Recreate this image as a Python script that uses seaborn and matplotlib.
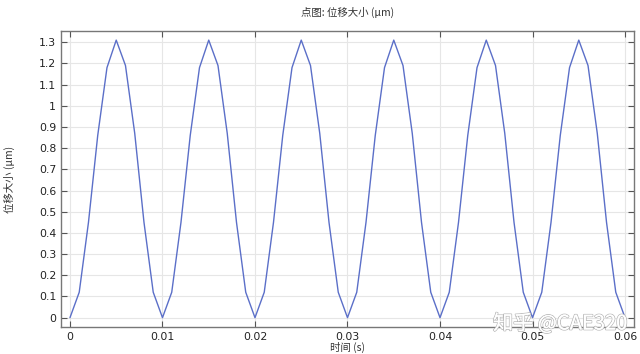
import matplotlib
matplotlib.use("Agg")
import matplotlib.pyplot as plt
import matplotlib.patheffects as pe
import seaborn as sns
import pandas as pd

time_s = [0.000, 0.001, 0.002, 0.003, 0.004, 0.005, 0.006, 0.007, 0.008, 0.009,
          0.010, 0.011, 0.012, 0.013, 0.014, 0.015, 0.016, 0.017, 0.018, 0.019,
          0.020, 0.021, 0.022, 0.023, 0.024, 0.025, 0.026, 0.027, 0.028, 0.029,
          0.030, 0.031, 0.032, 0.033, 0.034, 0.035, 0.036, 0.037, 0.038, 0.039,
          0.040, 0.041, 0.042, 0.043, 0.044, 0.045, 0.046, 0.047, 0.048, 0.049,
          0.050, 0.051, 0.052, 0.053, 0.054, 0.055, 0.056, 0.057, 0.058, 0.059,
          0.060]
disp_um = [0.00, 0.12, 0.45, 0.86, 1.18, 1.31, 1.19, 0.87, 0.45, 0.12,
           0.00, 0.12, 0.45, 0.86, 1.18, 1.31, 1.19, 0.87, 0.45, 0.12,
           0.00, 0.12, 0.45, 0.86, 1.18, 1.31, 1.19, 0.87, 0.45, 0.12,
           0.00, 0.12, 0.45, 0.86, 1.18, 1.31, 1.19, 0.87, 0.45, 0.12,
           0.00, 0.12, 0.45, 0.86, 1.18, 1.31, 1.19, 0.87, 0.45, 0.12,
           0.00, 0.12, 0.45, 0.86, 1.18, 1.31, 1.19, 0.87, 0.45, 0.12,
           0.00]
x_ticks = [0, 0.01, 0.02, 0.03, 0.04, 0.05, 0.06]
x_tick_labels = ["0", "0.01", "0.02", "0.03", "0.04", "0.05", "0.06"]
y_ticks = [0, 0.1, 0.2, 0.3, 0.4, 0.5, 0.6, 0.7, 0.8, 0.9, 1.0, 1.1, 1.2, 1.3]
y_tick_labels = ["0", "0.1", "0.2", "0.3", "0.4", "0.5", "0.6", "0.7", "0.8",
                 "0.9", "1", "1.1", "1.2", "1.3"]

title = "点图: 位移大小 (µm)"
xlabel = "时间 (s)"
ylabel = "位移大小 (µm)"
watermark = "知乎 @CAE320"

sns.set_style("white")
plt.rcParams['font.family'] = ['DejaVu Sans', 'Noto Sans CJK SC']

df = pd.DataFrame({"t": time_s, "u": disp_um})

fig = plt.figure(figsize=(6.4, 3.54), dpi=100)
ax = fig.add_axes([61/640, 1 - 327/354, (634-61)/640, (327-31)/354])

sns.lineplot(data=df, x="t", y="u", ax=ax, color="#5b6fc8", linewidth=1.0)

ax.set_xlim(-0.00097, 0.06097)
ax.set_ylim(-0.044, 1.353)
ax.set_xticks(x_ticks)
ax.set_xticklabels(x_tick_labels)
ax.set_yticks(y_ticks)
ax.set_yticklabels(y_tick_labels)
ax.grid(True, color="#e6e6e6", linewidth=0.8)
ax.tick_params(direction="in", length=4, width=0.8, colors="#555555",
               labelcolor="#222222", labelsize=7.8,
               top=True, right=True, bottom=True, left=True)
for s in ax.spines.values():
    s.set_color("#777777")
    s.set_linewidth(1.0)

ax.set_xlabel(xlabel, family=['Noto Sans CJK SC', 'DejaVu Sans'], fontsize=7.5,
              color="#333333", labelpad=0)
ax.set_ylabel(ylabel, family=['Noto Sans CJK SC', 'DejaVu Sans'], fontsize=7.5,
              color="#333333", labelpad=17)
ax.set_title(title, family=['Noto Sans CJK SC', 'DejaVu Sans'], fontsize=7.5,
             color="#333333", pad=11)

wm = fig.text(560/640, 1 - 324/354, watermark, family=['Noto Sans CJK SC', 'DejaVu Sans'],
              fontsize=14.5, color="white", ha="center", va="center")
wm.set_path_effects([pe.withStroke(linewidth=1.2, foreground="#b8b8b8"), pe.Normal()])

fig.savefig("out.png", dpi=100)
